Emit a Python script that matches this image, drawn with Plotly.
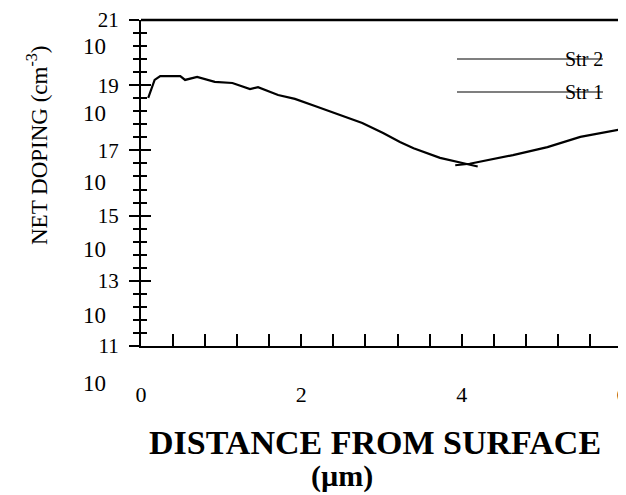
import plotly.graph_objects as go

# ---- data ----
str1_x = [0.09, 0.17, 0.24, 0.49, 0.55, 0.70, 0.92, 1.14, 1.36, 1.46, 1.71, 1.92,
          2.17, 2.42, 2.76, 3.02, 3.23, 3.40, 3.73, 4.05, 4.20]
str1_y = [4.1e18, 1.45e19, 1.9e19, 1.9e19, 1.45e19, 1.8e19, 1.26e19, 1.17e19,
          7.6e18, 8.7e18, 5.0e18, 3.8e18, 2.3e18, 1.4e18, 6.9e17, 3.4e17,
          1.8e17, 1.17e17, 5.9e16, 3.9e16, 3.2e16]
str2_x = [3.92, 4.10, 4.64, 5.07, 5.48, 6.00]
str2_y = [3.5e16, 3.9e16, 7.2e16, 1.26e17, 2.6e17, 4.5e17]

y_exponents = [11, 13, 15, 17, 19, 21]
y_tick_text = [str(e) for e in y_exponents]
x_tick_labels = {0: "0", 2: "2", 4: "4", 6: "6"}
series_names = ["Str 1", "Str 2"]

FONT = "Liberation Serif"

fig = go.Figure()
fig.add_trace(go.Scatter(x=str1_x, y=str1_y, mode="lines", name=series_names[0],
                         line=dict(color="black", width=2.2), showlegend=False))
fig.add_trace(go.Scatter(x=str2_x, y=str2_y, mode="lines", name=series_names[1],
                         line=dict(color="black", width=2.2), showlegend=False))
# invisible helper trace so the mirrored tick axis (y2) is drawn
fig.add_trace(go.Scatter(x=str1_x, y=str1_y, yaxis="y2", mode="lines",
                         line=dict(color="rgba(0,0,0,0)"), hoverinfo="skip",
                         showlegend=False))

x_ticks = [round(0.4 * k, 1) for k in range(16)]
x_text = []
for v in x_ticks:
    r = int(round(v))
    x_text.append(x_tick_labels[r] if abs(v - r) < 1e-9 and r in x_tick_labels else "")

major_vals = [10.0 ** e for e in y_exponents]
minor_vals = [10.0 ** (11 + 0.4 * k) for k in range(26)]

# page pixel geometry of the plot area (the html body adds an 8px offset)
OFF = 8
PLOT_L, PLOT_R, PLOT_T, PLOT_B = 141, 622, 20, 346
FIG_W, FIG_H = 626 - OFF, 495 - OFF


def py2paper(py):
    return (PLOT_B - py) / (PLOT_B - PLOT_T)


def px2paper(px):
    return (px - PLOT_L) / (PLOT_R - PLOT_L)


fig.update_layout(
    width=FIG_W, height=FIG_H,
    margin=dict(l=PLOT_L - OFF, r=FIG_W - (PLOT_R - OFF), t=PLOT_T - OFF,
                b=FIG_H - (PLOT_B - OFF), autoexpand=False),
    paper_bgcolor="white", plot_bgcolor="white",
    font=dict(family=FONT, color="black"),
    xaxis=dict(range=[0, 6], showgrid=False, zeroline=False, automargin=False,
               showline=True, linecolor="black", linewidth=2,
               ticks="inside", ticklen=12, tickwidth=2, tickcolor="black",
               tickmode="array", tickvals=x_ticks, ticktext=x_text,
               ticklabeloverflow="allow",
               tickfont=dict(size=22, family=FONT), ticklabelstandoff=28),
    yaxis=dict(type="log", range=[11, 21], showgrid=False, zeroline=False,
               automargin=False,
               showline=True, linecolor="black", linewidth=2,
               ticks="outside", ticklen=10, tickwidth=2, tickcolor="black",
               tickmode="array", tickvals=major_vals,
               ticktext=y_tick_text, tickfont=dict(size=21, family=FONT),
               ticklabelstandoff=6, ticklabeloverflow="allow",
               minor=dict(tickmode="array", tickvals=minor_vals, ticks="outside",
                          ticklen=6, tickwidth=1.5, tickcolor="black")),
    yaxis2=dict(type="log", range=[11, 21], overlaying="y", anchor="x", side="left",
                showgrid=False, zeroline=False, showline=False, automargin=False,
                ticks="inside", ticklen=10, tickwidth=2, tickcolor="black",
                tickmode="array", tickvals=major_vals,
                showticklabels=False,
                minor=dict(tickmode="array", tickvals=minor_vals, ticks="inside",
                           ticklen=6, tickwidth=1.5, tickcolor="black")),
)

# frame: top and right
fig.add_shape(type="line", xref="paper", yref="paper", x0=0, x1=1, y0=1, y1=1,
              line=dict(color="black", width=2.5))
fig.add_shape(type="line", xref="paper", yref="paper", x0=1, x1=1, y0=0, y1=1,
              line=dict(color="black", width=1.2))

# base "10" of each y tick label (sits below its exponent)
base_rows = {21: 47, 19: 113, 17: 182, 15: 250, 13: 315, 11: 383}
for e in y_exponents:
    fig.add_annotation(text="10", xref="paper", yref="paper", x=px2paper(108),
                       y=py2paper(base_rows[e]),
                       xanchor="right", yanchor="middle", showarrow=False,
                       font=dict(size=23, family=FONT))

# y title
fig.add_annotation(text="NET DOPING (cm<sup>-3</sup>)", xref="paper", yref="paper",
                   x=px2paper(37), y=py2paper(145), textangle=-90, showarrow=False,
                   xanchor="center", yanchor="middle",
                   font=dict(size=23, family=FONT))

# x title (two lines)
fig.add_annotation(text="<b>DISTANCE FROM SURFACE</b>", xref="paper", yref="paper",
                   x=px2paper(375), y=py2paper(442), showarrow=False,
                   xanchor="center", yanchor="middle",
                   font=dict(size=34, family=FONT))
fig.add_annotation(text="<b>(µm)</b>", xref="paper", yref="paper",
                   x=px2paper(342), y=py2paper(476), showarrow=False,
                   xanchor="center", yanchor="middle",
                   font=dict(size=30, family=FONT))

# legend keys (line with overlapping label)
legend_rows = [(series_names[1], py2paper(59)), (series_names[0], py2paper(92))]
for name, yp in legend_rows:
    fig.add_shape(type="line", xref="paper", yref="paper", x0=px2paper(457),
                  x1=px2paper(603), y0=yp, y1=yp, line=dict(color="black", width=1.2))
    fig.add_annotation(text=name, xref="paper", yref="paper", x=px2paper(605), y=yp,
                       xanchor="right", yanchor="middle", showarrow=False,
                       font=dict(size=20, family=FONT))

fig.write_html("out.html")
